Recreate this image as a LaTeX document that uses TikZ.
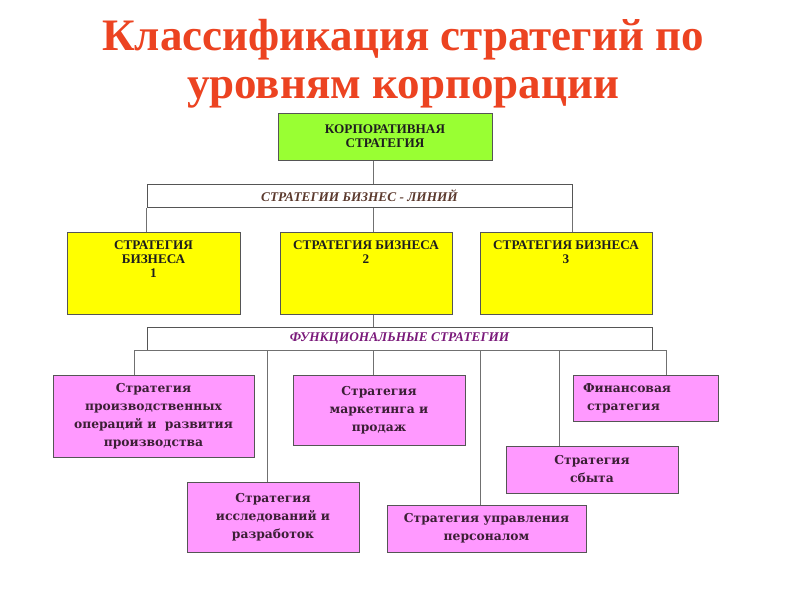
\documentclass[tikz,border=0pt]{standalone}
\usepackage{fontspec}
\setmainfont{Liberation Serif}
\newfontfamily\wideserif{DejaVu Serif}
\usetikzlibrary{positioning}
\definecolor{titlered}{HTML}{EC4321}
\definecolor{corpgreen}{HTML}{99FF33}
\definecolor{bizyellow}{HTML}{FFFF00}
\definecolor{funcpink}{HTML}{FF99FF}
\definecolor{boxgray}{HTML}{555555}
\definecolor{linegray}{HTML}{707070}
\definecolor{dktext}{HTML}{1E1E1E}
\definecolor{pinktext}{HTML}{3B1F35}
\definecolor{barbrown}{HTML}{5C3A2E}
\definecolor{barpurple}{HTML}{7B1A7B}

\begin{document}
\begin{tikzpicture}[x=1pt, y=-1pt,
  lvlbox/.style={draw=boxgray, line width=1pt, fill=#1, inner sep=2pt, align=center},
  capstext/.style={font=\fontsize{13.2}{13.8}\selectfont\bfseries, text=dktext, align=center},
  bartext/.style={font=\fontsize{13.3}{14}\selectfont\bfseries\itshape, text=#1},
  pinkbox/.style={lvlbox=funcpink, font=\wideserif\fontsize{12.3}{18}\selectfont\bfseries, text=pinktext},
  conn/.style={draw=linegray, line width=0.8pt},
]

% Background
\fill[white] (0,0) rectangle (800,600);
\useasboundingbox (0,0) rectangle (800,600);

% Title
\node[font=\fontsize{45}{48}\selectfont\bfseries, text=titlered, align=center] (title) at (403,64)
  {Классификация стратегий по\\уровням корпорации};

% ---- Connectors (under the boxes) ----
\coordinate (spine) at (373,0);

% ---- Corporate level ----
\node[lvlbox=corpgreen, capstext, minimum width=214pt, minimum height=47pt] (corp) at (385,136.5)
  {КОРПОРАТИВНАЯ\\СТРАТЕГИЯ};

% ---- Business lines ----
\node[lvlbox=white, bartext=barbrown, minimum width=425pt, minimum height=23pt] (bizbar) at (359.5,196)
  {СТРАТЕГИИ БИЗНЕС - ЛИНИЙ};

\draw[conn] (corp.south -| spine) -- (bizbar.north -| spine);

\node[lvlbox=bizyellow, minimum width=173pt, minimum height=82pt] (biz1) at (153.5,273) {};
\node[lvlbox=bizyellow, minimum width=172pt, minimum height=82pt] (biz2) at (366,273) {};
\node[lvlbox=bizyellow, minimum width=172pt, minimum height=82pt] (biz3) at (566,273) {};

\draw[conn] (bizbar.south west) -- (bizbar.south west |- biz1.north);
\draw[conn] (bizbar.south -| spine) -- (biz2.north -| spine);
\draw[conn] (bizbar.south east) -- (bizbar.south east |- biz3.north);

\node[capstext, anchor=north] (biz1t) at ([yshift=-6pt]biz1.north) {СТРАТЕГИЯ\\БИЗНЕСА\\1};
\node[capstext, anchor=north] (biz2t) at ([yshift=-6pt]biz2.north) {СТРАТЕГИЯ БИЗНЕСА\\2};
\node[capstext, anchor=north] (biz3t) at ([yshift=-6pt]biz3.north) {СТРАТЕГИЯ БИЗНЕСА\\3};

% ---- Functional level ----
\node[lvlbox=white, bartext=barpurple, minimum width=505pt, minimum height=23pt] (funcbar) at (399.5,338.5)
  {ФУНКЦИОНАЛЬНЫЕ СТРАТЕГИИ};

\draw[conn] (biz2.south -| spine) -- (funcbar.north -| spine);

\node[pinkbox, minimum width=201pt, minimum height=82pt] (prod) at (153.5,416)
  {Стратегия\\производственных\\операций и~ развития\\производства};
\node[pinkbox, minimum width=172pt, minimum height=70pt] (rnd) at (273,517)
  {Стратегия\\исследований и\\разработок};
\node[pinkbox, minimum width=172pt, minimum height=70pt] (mkt) at (379,410)
  {Стратегия\\маркетинга и\\продаж};
\node[pinkbox, minimum width=199pt, minimum height=47pt] (pers) at (486.5,528.5)
  {Стратегия управления\\персоналом};
\node[pinkbox, minimum width=172pt, minimum height=47pt] (sales) at (592,469.5)
  {Стратегия\\сбыта};
\node[pinkbox, align=left, text width=125pt, inner xsep=10pt, minimum height=46pt] (fin) at (645.5,398)
  {Финансовая\\\hspace*{4pt}стратегия};

% taps on the bottom edge of the functional bar
\foreach \t/\x in {prod/134, rnd/267, mkt/373, pers/480, sales/559, fin/666}
  \coordinate (f-\t) at (\x,350);
\draw[conn] (f-prod) -- (f-fin);
\foreach \t in {prod, rnd, mkt, pers, sales, fin}
  \draw[conn] (f-\t) -- (f-\t |- \t.north);

\end{tikzpicture}
\end{document}
